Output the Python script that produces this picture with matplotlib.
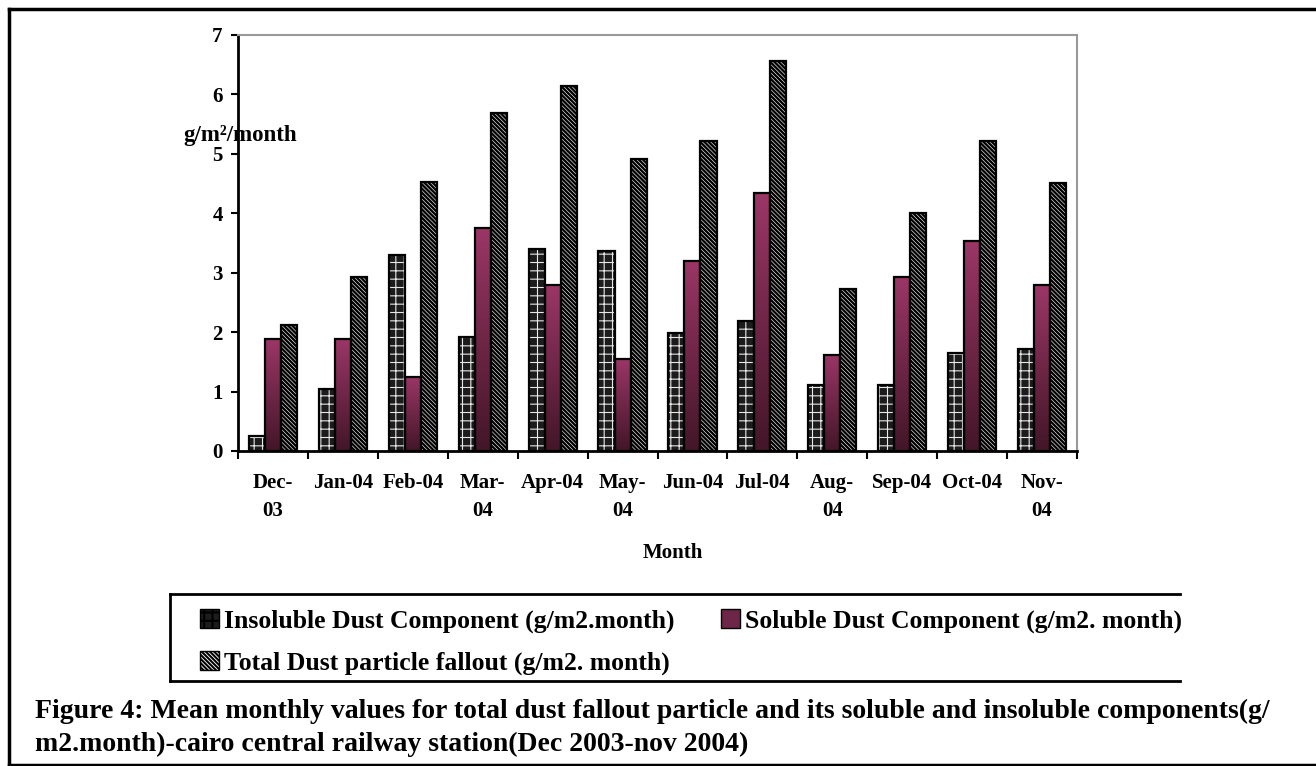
import numpy as np
import matplotlib.pyplot as plt
from matplotlib.lines import Line2D
from matplotlib.patches import Patch
from matplotlib.colors import LinearSegmentedColormap

# Monthly dust fallout, Cairo central railway station
months = ["Dec-\n03", "Jan-04", "Feb-04", "Mar-\n04", "Apr-04", "May-\n04",
          "Jun-04", "Jul-04", "Aug-\n04", "Sep-04", "Oct-04", "Nov-\n04"]
insoluble = [0.25, 1.05, 3.30, 1.92, 3.40, 3.37, 1.99, 2.19, 1.11, 1.11, 1.65, 1.72]
soluble = [1.88, 1.88, 1.25, 3.76, 2.79, 1.55, 3.20, 4.34, 1.62, 2.93, 3.53, 2.79]
total = [2.12, 2.93, 4.53, 5.68, 6.15, 4.91, 5.22, 6.56, 2.72, 4.01, 5.22, 4.51]

label_ins = "Insoluble Dust Component (g/m2.month)"
label_sol = "Soluble Dust Component (g/m2. month)"
label_tot = "Total Dust particle fallout (g/m2. month)"

plt.rcParams['font.family'] = ['Liberation Serif', 'DejaVu Serif']
plt.rcParams['font.weight'] = 'bold'
plt.rcParams['hatch.linewidth'] = 1.5

W, H = 1316, 766
fig = plt.figure(figsize=(W / 100, H / 100), dpi=100)
ax = fig.add_axes([238 / W, 1 - 451 / H, 839 / W, 416 / H])

x = np.arange(len(months)) + 0.5
bw = 0.23
ins_hatch = '++'
tot_hatch = '\\' * 8


def hatch_width(patches, w):
    for p in patches:
        if hasattr(p, 'set_hatch_linewidth'):
            p.set_hatch_linewidth(w)


# insoluble: dark bars with a thin white brick-like hatch
ins_fill = ax.bar(x - bw, insoluble, bw, color='#1c1c1c', edgecolor='#e8e8e8',
                  hatch=ins_hatch, linewidth=0, zorder=2)
hatch_width(ins_fill, 0.8)
ax.bar(x - bw, insoluble, bw, fill=False, edgecolor='black', linewidth=1.6, zorder=3)

# soluble: magenta bars shaded darker toward the base
grad = LinearSegmentedColormap.from_list('sol', ['#431628', '#9b3666'])
sol_bars = ax.bar(x, soluble, bw, fill=False, edgecolor='black', linewidth=1.6, zorder=3)
for b in sol_bars:
    x0, y0, bwid, bh = b.get_x(), b.get_y(), b.get_width(), b.get_height()
    ax.imshow(np.linspace(0, 1, 100).reshape(-1, 1), cmap=grad, origin='lower',
              extent=[x0, x0 + bwid, y0, y0 + bh], aspect='auto', zorder=2)

# total: white bars with dense black diagonal hatch
tot_bars = ax.bar(x + bw, total, bw, color='white', edgecolor='black', hatch=tot_hatch,
                  linewidth=1.6, zorder=3)
hatch_width(tot_bars, 1.7)

ax.set_xlim(0, 12)
ax.set_ylim(0, 7)
ax.set_xticks(np.arange(13))
ax.set_xticklabels([])
ax.set_xticks(x, minor=True)
ax.set_xticklabels(months, minor=True, fontsize=15, fontweight='bold', linespacing=1.5,
                   va='top')
ax.tick_params(axis='x', which='minor', length=0, pad=16)
ax.tick_params(axis='x', which='major', direction='out', length=6, width=1.5)
ax.set_yticks(range(8))
ax.tick_params(axis='y', direction='out', length=5, width=1.5, labelsize=15, pad=6)
for t in ax.get_yticklabels():
    t.set_fontweight('bold')

for s in ['left', 'bottom']:
    ax.spines[s].set_linewidth(2)
    ax.spines[s].set_color('black')
for s in ['top', 'right']:
    ax.spines[s].set_linewidth(1.5)
    ax.spines[s].set_color('#999999')

fig.text(673 / W, 1 - 553 / H, "Month", ha='center', va='center', fontsize=15,
         fontweight='bold')
fig.text(183 / W, 1 - 141 / H, "g/m\u00b2/month", ha='left', va='baseline', fontsize=16.5,
         fontweight='bold')

# legend in two rows, frame open on the right
h_ins = Patch(facecolor='#1c1c1c', edgecolor='black', hatch=ins_hatch)
h_sol = Patch(facecolor='#6e2648', edgecolor='black')
h_tot = Patch(facecolor='white', edgecolor='black', hatch=tot_hatch)
fig.legend([h_ins, h_tot, h_sol], [label_ins, label_tot, label_sol], ncol=2,
           loc='center left', bbox_to_anchor=(187 / W, 1 - 642 / H), frameon=False,
           prop={'size': 18.5, 'weight': 'bold'}, handlelength=0.75, handleheight=0.75,
           handletextpad=0.2, columnspacing=1.8, labelspacing=0.72, borderpad=0)
lw = 2
fig.add_artist(Line2D([170 / W, 1180 / W], [1 - 594 / H] * 2, color='black', lw=lw))
fig.add_artist(Line2D([170 / W, 1180 / W], [1 - 681 / H] * 2, color='black', lw=lw))
fig.add_artist(Line2D([170 / W] * 2, [1 - 594 / H, 1 - 681 / H], color='black', lw=lw))

# outer frame, open on the right
fig.add_artist(Line2D([9 / W, 1], [1 - 9 / H] * 2, color='black', lw=2.5))
fig.add_artist(Line2D([9 / W, 1], [1 - 765 / H] * 2, color='black', lw=2.5))
fig.add_artist(Line2D([9 / W] * 2, [1 - 9 / H, 1 - 765 / H], color='black', lw=2.5))

fig.text(35 / W, 1 - 711 / H,
         "Figure 4: Mean monthly values for total dust fallout particle and its soluble "
         "and insoluble components(g/", ha='left', va='center', fontsize=20,
         fontweight='bold')
fig.text(35 / W, 1 - 744 / H,
         "m2.month)-cairo central railway station(Dec 2003-nov 2004)", ha='left',
         va='center', fontsize=20, fontweight='bold')

fig.savefig("out.png", dpi=100)
